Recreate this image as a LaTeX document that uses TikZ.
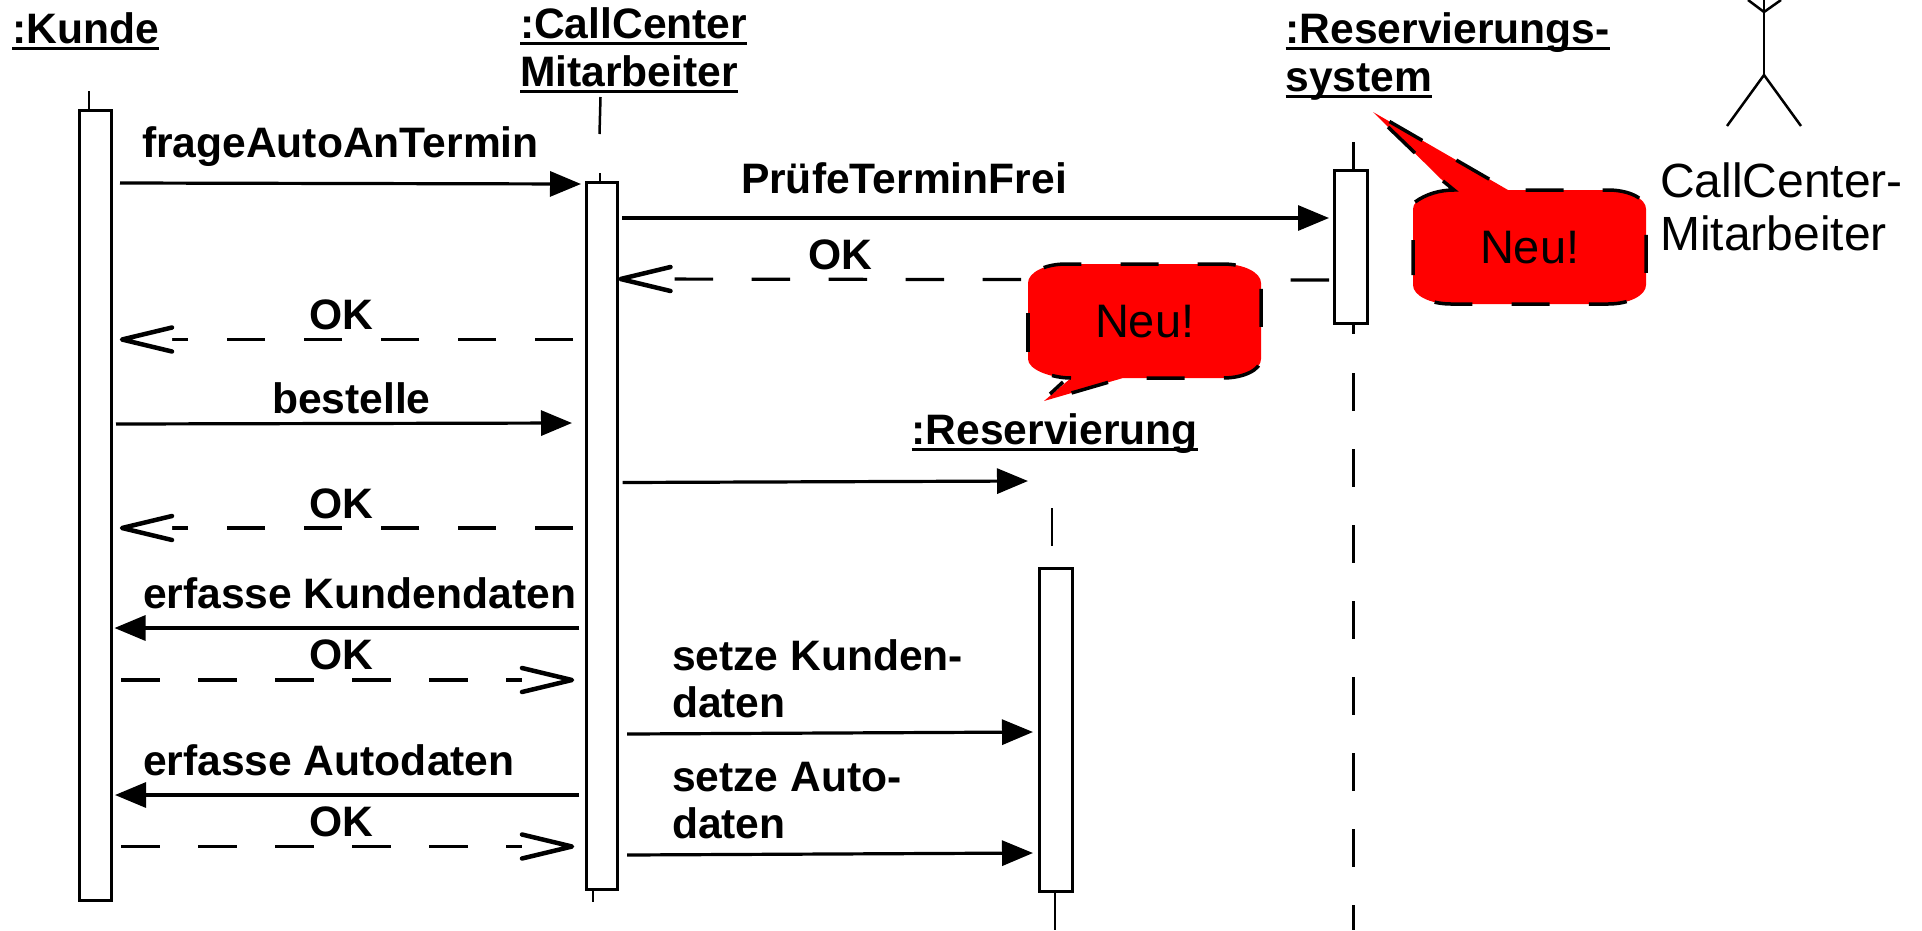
\documentclass[tikz,border=0pt]{standalone}
\usepackage{fontspec}
\setmainfont{Liberation Sans}
\usetikzlibrary{arrows.meta,calc}
\newcommand{\ulbl}[1]{\setbox0=\hbox{#1}\copy0\kern-\wd0\vrule width\wd0 height -3.5pt depth 6.5pt\relax}
\newcommand{\barbhead}[2]{%
  \fill[white] ($(#1)+(#2*50,-12)$) -- (#1) -- ($(#1)+(#2*50,12)$) -- cycle;
  \draw[barbline] ($(#1)+(#2*50,-12)$) -- (#1) -- ($(#1)+(#2*50,12)$);}
\tikzset{
  act/.style={draw=black,fill=white,line width=3pt,inner sep=0pt,outer sep=0pt},
  life/.style={line width=2.5pt},
  msg/.style={line width=3.2pt,-{Triangle[length=31pt,width=25pt]}},
  ret/.style={line width=3.2pt,dash pattern=on 38.5pt off 38.5pt},
  barbline/.style={line width=4.5pt,line cap=round,line join=round},
  lbl/.style={inner sep=0pt,outer sep=0pt,anchor=base west,font=\fontsize{42.6}{48}\selectfont\bfseries},
  plain/.style={inner sep=0pt,outer sep=0pt,anchor=base west,font=\fontsize{48}{53}\selectfont},
  bubbleline/.style={draw=black,line width=3.5pt,dash pattern=on 38pt off 39.2pt},
  bubblebit/.style={draw=black,line width=3.5pt},
  stick/.style={line width=2.5pt}
}
\begin{document}
\begin{tikzpicture}[x=1pt,y=-1pt]
\useasboundingbox (0,0) rectangle (1922,930);

% activation boxes
\node[act,minimum width=32pt,minimum height=790pt] (boxK) at (95,505) {};
\node[act,minimum width=31pt,minimum height=707pt] (boxC) at (601.5,535.5) {};
\node[act,minimum width=33pt,minimum height=153pt] (boxS) at (1351,246.5) {};
\node[act,minimum width=33pt,minimum height=323pt] (boxR) at (1056,729.5) {};

% lifelines
\coordinate (kTop) at (89,91);
\coordinate (kTopE) at (89,109);
\draw[life] (kTop) -- (kTopE);
\coordinate (cA) at (600.5,97);
\coordinate (cB) at (599.5,134);
\coordinate (cC) at (600,173);
\coordinate (cD) at (600,182);
\coordinate (cE) at (593,889);
\coordinate (cF) at (593,902);
\draw[life] (cA) -- (cB);
\draw[life] (cC) -- (cD);
\draw[life] (cE) -- (cF);
\coordinate (sA) at (1353.5,142);
\coordinate (sB) at (1353.5,170);
\coordinate (sC) at (1353.5,323);
\coordinate (sD) at (1353.5,334);
\coordinate (sE) at (1353.5,373);
\coordinate (sF) at (1353.5,930);
\draw[life] (sA) -- (sB);
\draw[life] (sC) -- (sD);
\draw[life,dash pattern=on 38pt off 38pt] (sE) -- (sF);
\coordinate (rA) at (1052,508);
\coordinate (rB) at (1052,546);
\coordinate (rC) at (1055,891);
\coordinate (rD) at (1055,930);
\draw[life] (rA) -- (rB);
\draw[life] (rC) -- (rD);

% synchronous messages
\coordinate (m1a) at (120,183); \coordinate (m1b) at (581,184);
\draw[msg] (m1a) -- (m1b);
\coordinate (m2a) at (622,218); \coordinate (m2b) at (1329,218);
\draw[msg] (m2a) -- (m2b);
\coordinate (m3a) at (116,424); \coordinate (m3b) at (572,423);
\draw[msg] (m3a) -- (m3b);
\coordinate (m4a) at (622.5,482.5); \coordinate (m4b) at (1028,481);
\draw[msg] (m4a) -- (m4b);
\coordinate (m5a) at (579,628); \coordinate (m5b) at (114.5,628);
\draw[msg] (m5a) -- (m5b);
\coordinate (m6a) at (627,734); \coordinate (m6b) at (1033,732);
\draw[msg] (m6a) -- (m6b);
\coordinate (m7a) at (579,795); \coordinate (m7b) at (115,795);
\draw[msg] (m7a) -- (m7b);
\coordinate (m8a) at (627,855); \coordinate (m8b) at (1033,853);
\draw[msg] (m8a) -- (m8b);

% return messages
\coordinate (r1a) at (1329,280); \coordinate (r1b) at (620.5,279);
\draw[ret] (r1a) -- (r1b); \barbhead{r1b}{1}
\coordinate (r2a) at (573,339.5); \coordinate (r2b) at (122,339.5);
\draw[ret] (r2a) -- (r2b); \barbhead{r2b}{1}
\coordinate (r3a) at (573,528); \coordinate (r3b) at (122,528);
\draw[ret] (r3a) -- (r3b); \barbhead{r3b}{1}
\coordinate (r4a) at (121,680); \coordinate (r4b) at (572,680);
\draw[ret] (r4a) -- (r4b); \barbhead{r4b}{-1}
\coordinate (r5a) at (121,846.5); \coordinate (r5b) at (572,846.5);
\draw[ret] (r5a) -- (r5b); \barbhead{r5b}{-1}

% speech bubble, right
\fill[red]
  (1373,112) -- (1508,190) -- (1608,190) .. controls (1629,190) and (1646,198.5) .. (1646,209)
  -- (1646,285) .. controls (1646,295.5) and (1629,304) .. (1608,304)
  -- (1451,304) .. controls (1430,304) and (1413,295.5) .. (1413,285)
  -- (1413,209) .. controls (1413,198.5) and (1433,190) .. (1454,190) -- (1442,180) -- cycle;
\draw[bubbleline,dash phase=58.2pt]
  (1373,112) -- (1508,190) -- (1608,190) .. controls (1629,190) and (1646,198.5) .. (1646,209)
  -- (1646,285) .. controls (1646,295.5) and (1629,304) .. (1608,304)
  -- (1451,304) .. controls (1430,304) and (1413,295.5) .. (1413,285) -- (1413,240);
\draw[bubblebit] (1415,202) .. controls (1426,194) and (1440,190) .. (1454,190) -- (1443,181);
\draw[bubblebit] (1415,153) -- (1388,127);

% speech bubble, lower
\fill[red]
  (1044,401) -- (1123,378) -- (1223,378) .. controls (1244,378) and (1261,369.5) .. (1261,359)
  -- (1261,283) .. controls (1261,272.5) and (1244,264) .. (1223,264)
  -- (1066,264) .. controls (1045,264) and (1028,272.5) .. (1028,283)
  -- (1028,359) .. controls (1028,369.5) and (1050,378) .. (1071,378) -- cycle;
\draw[bubbleline,dash phase=48.5pt]
  (1044,401) -- (1123,378) -- (1223,378) .. controls (1244,378) and (1261,369.5) .. (1261,359)
  -- (1261,283) .. controls (1261,272.5) and (1244,264) .. (1223,264)
  -- (1066,264) .. controls (1045,264) and (1028,272.5) .. (1028,283);
\draw[bubblebit] (1028,313) -- (1028,352);
\draw[bubblebit] (1052,375.5) .. controls (1058,377) and (1064,378) .. (1071,378);
\draw[bubblebit] (1063,382) -- (1050,394);

\node[plain,font=\fontsize{47}{53}\selectfont] (neuA) at (1480,263) {Neu!};
\node[plain,font=\fontsize{47}{53}\selectfont] (neuB) at (1095,337) {Neu!};

% stick figure
\coordinate (hip) at (1764,75);
\coordinate (neck) at (1764,0);
\coordinate (legL) at (1727,126);
\coordinate (legR) at (1801,126);
\coordinate (armL) at (1748,0);
\coordinate (armR) at (1781,0);
\coordinate (armM) at (1764,12);
\draw[stick] (neck) -- (hip);
\draw[stick] (legL) -- (hip) -- (legR);
\draw[stick] (armL) -- (armM) -- (armR);

% object headers
\node[lbl] (tK) at (12.5,43) {\ulbl{:Kunde}};
\node[lbl] (tC1) at (520,38) {\ulbl{:CallCenter}};
\node[lbl] (tC2) at (520,86) {\ulbl{Mitarbeiter}};
\node[lbl] (tS1) at (1285.5,43) {\ulbl{:Reservierungs-}};
\node[lbl] (tS2) at (1285.5,91) {\ulbl{system}};
\node[lbl] (tR) at (911.5,444) {\ulbl{:Reservierung}};
\node[plain] (tA1) at (1660,197) {CallCenter-};
\node[plain] (tA2) at (1660,250) {Mitarbeiter};

% message labels
\node[lbl] (l1) at (142,157) {frageAutoAnTermin};
\node[lbl] (l2) at (741,193) {PrüfeTerminFrei};
\node[lbl] (l3) at (808,269) {OK};
\node[lbl] (l4) at (309.5,329) {OK};
\node[lbl] (l5) at (272,413) {bestelle};
\node[lbl] (l6) at (309.5,518) {OK};
\node[lbl] (l7) at (143,608) {erfasse Kundendaten};
\node[lbl] (l8) at (309.5,669) {OK};
\node[lbl] (l9a) at (672,670) {setze Kunden-};
\node[lbl] (l9b) at (672,717) {daten};
\node[lbl] (l10) at (143,775) {erfasse Autodaten};
\node[lbl] (l11) at (309.5,836) {OK};
\node[lbl] (l12a) at (672,791) {setze Auto-};
\node[lbl] (l12b) at (672,838) {daten};
\end{tikzpicture}
\end{document}
